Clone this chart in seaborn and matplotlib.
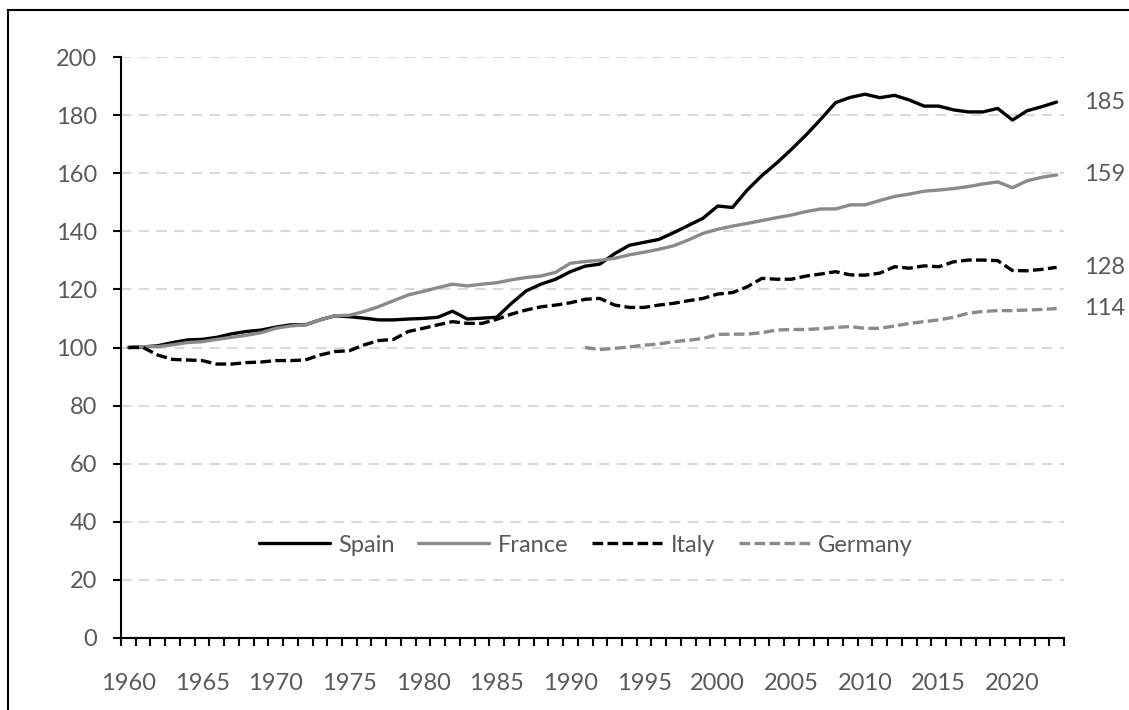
import numpy as np
import pandas as pd
import matplotlib
matplotlib.use("Agg")
import matplotlib.pyplot as plt
import seaborn as sns
from matplotlib.ticker import FixedLocator, NullFormatter
from matplotlib.patches import Rectangle

years = list(range(1960, 2024))
spain = [100.0, 100.2, 100.6, 101.7, 102.6, 102.8, 103.5, 104.7, 105.5, 106.0,
         107.0, 107.8, 107.8, 109.5, 110.9, 110.6, 110.1, 109.5, 109.5, 109.8,
         110.0, 110.4, 112.5, 109.8, 110.1, 110.4, 115.2, 119.5, 121.8, 123.5,
         126.1, 128.0, 128.7, 132.3, 135.2, 136.2, 137.2, 139.5, 142.0, 144.5,
         148.7, 148.2, 154.2, 159.2, 163.5, 168.2, 173.2, 178.6, 184.3, 186.1,
         187.2, 186.0, 186.8, 185.2, 183.1, 183.1, 181.8, 181.1, 181.1, 182.3,
         178.3, 181.5, 182.9, 184.5]
france = [100.0, 100.3, 100.3, 100.9, 101.7, 102.0, 102.8, 103.5, 104.2, 105.1,
          106.6, 107.4, 107.8, 109.5, 110.9, 111.1, 112.4, 114.1, 116.1, 118.1,
          119.3, 120.6, 121.8, 121.2, 121.8, 122.3, 123.3, 124.1, 124.6, 125.9,
          129.0, 129.6, 130.0, 130.7, 131.9, 132.8, 133.8, 135.0, 137.0, 139.3,
          140.7, 141.8, 142.7, 143.7, 144.7, 145.6, 146.8, 147.7, 147.7, 149.1,
          149.1, 150.6, 152.0, 152.8, 153.8, 154.2, 154.7, 155.4, 156.3, 157.0,
          155.0, 157.4, 158.6, 159.4]
italy = [100.0, 100.0, 97.4, 95.9, 95.7, 95.5, 94.3, 94.3, 94.8, 95.0,
         95.5, 95.5, 95.7, 97.4, 98.6, 98.9, 100.9, 102.4, 102.8, 105.5,
         106.6, 107.8, 108.9, 108.3, 108.3, 109.7, 111.5, 112.9, 114.0, 114.6,
         115.4, 116.6, 116.9, 114.6, 113.8, 113.8, 114.6, 115.2, 116.1, 116.9,
         118.4, 118.9, 120.9, 123.8, 123.5, 123.5, 124.6, 125.3, 126.1, 125.0,
         124.9, 125.6, 127.8, 127.3, 128.1, 127.8, 129.5, 130.1, 130.1, 129.9,
         126.5, 126.4, 126.9, 127.6]
germany_years = list(range(1991, 2024))
germany = [100.0, 99.3, 99.7, 100.2, 100.8, 101.2, 102.0, 102.5, 103.1, 104.5,
           104.6, 104.6, 105.1, 106.0, 106.2, 106.2, 106.5, 106.9, 107.2, 106.6,
           106.6, 107.4, 108.3, 108.9, 109.5, 110.4, 111.8, 112.4, 112.7, 112.7,
           112.9, 113.1, 113.4]
series_names = ["Spain", "France", "Italy", "Germany"]
end_labels = ["185", "159", "128", "114"]
y_ticks = list(range(0, 201, 20))
x_labels = list(range(1960, 2021, 5))

sns.set_theme(style="white")
plt.rcParams['font.family'] = ['Lato', 'DejaVu Sans']

TXT = "#595959"
GREY = "#8a8a8a"
FS = 17

fig = plt.figure(figsize=(11.29, 7.10), dpi=100)
ax = fig.add_axes([121/1129, 1-638/710, (1064-121)/1129, (638-57)/710])

df_main = pd.DataFrame({"year": years, "Spain": spain, "France": france, "Italy": italy})
df_ger = pd.DataFrame({"year": germany_years, "Germany": germany})

lw = 2.4
dash = (3.2, 1.3)
sns.lineplot(data=df_main, x="year", y="Spain", ax=ax, color="black", lw=lw, label=series_names[0])
sns.lineplot(data=df_main, x="year", y="France", ax=ax, color=GREY, lw=lw, label=series_names[1])
sns.lineplot(data=df_main, x="year", y="Italy", ax=ax, color="black", lw=lw, label=series_names[2])
sns.lineplot(data=df_ger, x="year", y="Germany", ax=ax, color=GREY, lw=lw, label=series_names[3])
lines = ax.get_lines()
lines[2].set_dashes(dash)
lines[3].set_dashes(dash)

ax.set_xlim(1959.5, 2023.5)
ax.set_ylim(0, 200)
ax.set_xlabel("")
ax.set_ylabel("")

# grid
for v in y_ticks[1:]:
    ax.axhline(v, color="#d9d9d9", lw=1.5, dashes=(5, 3.5), zorder=0)

for s in ["top", "right"]:
    ax.spines[s].set_visible(False)
for s in ["left", "bottom"]:
    ax.spines[s].set_color("black")
    ax.spines[s].set_linewidth(1.5)

ax.yaxis.set_major_locator(FixedLocator(y_ticks))
ax.set_yticklabels([str(v) for v in y_ticks])
ax.tick_params(axis="y", which="major", direction="out", length=6, width=1.5,
               color="black", labelcolor=TXT, labelsize=FS, pad=11, left=True)

ax.xaxis.set_major_locator(FixedLocator(x_labels))
ax.set_xticklabels([str(v) for v in x_labels])
ax.xaxis.set_minor_locator(FixedLocator(np.arange(1959.5, 2024.0, 1.0)))
ax.xaxis.set_minor_formatter(NullFormatter())
ax.tick_params(axis="x", which="major", length=0, labelcolor=TXT, labelsize=FS, pad=25, bottom=True)
ax.tick_params(axis="x", which="minor", direction="out", length=6, width=1.5, color="black", bottom=True)

# end labels
last_vals = [spain[-1], france[-1], italy[-1], germany[-1]]
for val, lab in zip(last_vals, end_labels):
    ax.annotate(lab, xy=(years[-1], val), xytext=(20, 0), textcoords="offset points",
                ha="left", va="center", color=TXT, fontsize=FS, annotation_clip=False)

leg = ax.legend(loc="center", bbox_to_anchor=(0.493, 0.16), ncol=4, frameon=False,
                fontsize=FS, handlelength=3.0, handletextpad=0.35, columnspacing=1.0,
                labelcolor=TXT)

# outer frame (left/top visible)
fig.patches.append(Rectangle((8/1129, -0.1), 1.2, 1.1 - 10/710, transform=fig.transFigure,
                             fill=False, edgecolor="black", lw=1.5))

fig.savefig("out.png", dpi=100)
